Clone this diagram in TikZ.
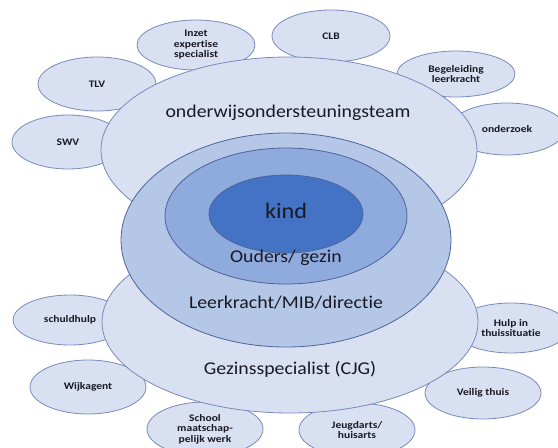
\documentclass[tikz,border=0pt]{standalone}
\usepackage{fontspec}
\setmainfont{Carlito}
\newfontfamily\lblfont[FakeStretch=1.15,Ligatures=NoCommon]{Carlito}
\newfontfamily\bigfont[FakeStretch=1.1,Ligatures=NoCommon]{Carlito}
\usetikzlibrary{shapes.geometric}
\definecolor{lightfill}{RGB}{217,224,241}
\definecolor{lightline}{RGB}{120,138,185}
\definecolor{midfill}{RGB}{180,199,231}
\definecolor{innerfill}{RGB}{143,170,220}
\definecolor{kindfill}{RGB}{68,114,196}
\definecolor{darkline}{RGB}{78,100,155}
\definecolor{txt}{RGB}{25,25,35}
\tikzset{
  sat/.style={ellipse, draw=lightline, fill=lightfill, line width=0.8pt, inner sep=0pt,
    text=txt, font=\lblfont\bfseries\fontsize{10}{10.5}\selectfont, align=center},
  ring/.style={ellipse, inner sep=0pt, line width=0.8pt},
  biglabel/.style={text=txt, font=\bigfont\fontsize{18}{20}\selectfont, inner sep=0pt},
}
\begin{document}
\begin{tikzpicture}[x=1pt,y=-1pt]
\useasboundingbox (0,0) rectangle (558,448);
\clip (0,0) rectangle (558,448);
% satellites
\node[sat, minimum width=118pt, minimum height=54pt] (tlv) at (97,84) {TLV};
\node[sat, minimum width=118pt, minimum height=50pt] (inzet) at (196,45) {Inzet\\expertise\\specialist};
\node[sat, minimum width=118pt, minimum height=52pt] (clb) at (331,36) {CLB};
\node[sat, minimum width=118pt, minimum height=46pt] (begel) at (456,74) {Begeleiding\\leerkracht};
\node[sat, minimum width=116pt, minimum height=52pt] (onderz) at (507,129) {onderzoek};
\node[sat, minimum width=112pt, minimum height=54pt] (swv) at (68,142) {SWV};
\node[sat, minimum width=114pt, minimum height=50pt] (schuld) at (70,320) {schuldhulp};
\node[sat, minimum width=116pt, minimum height=54pt] (wijk) at (88,387) {Wijkagent};
\node[sat, minimum width=116pt, minimum height=54pt] (school) at (205,429) {School\\maatschap-\\pelijk werk};
\node[sat, minimum width=116pt, minimum height=54pt] (jeugd) at (357,430) {Jeugdarts/\\huisarts};
\node[sat, minimum width=116pt, minimum height=52pt] (veilig) at (483,393) {Veilig thuis};
\node[sat, minimum width=116pt, minimum height=50pt] (hulp) at (511,328) {Hulp in\\thuissituatie};
% big ellipses
\node[ring, draw=lightline, fill=lightfill, minimum width=376pt, minimum height=186pt] (upper) at (289,150) {};
\node[ring, draw=lightline, fill=lightfill, minimum width=376pt, minimum height=182pt] (lower) at (290,322) {};
\node[ring, draw=darkline, fill=midfill, minimum width=330pt, minimum height=214pt] (middle) at (286,240) {};
\node[ring, draw=darkline, fill=innerfill, minimum width=242pt, minimum height=136pt] (inner) at (286,216) {};
\node[ring, draw=darkline, fill=kindfill, minimum width=154pt, minimum height=78pt] (kind) at (286,214) {};
% labels
\node[biglabel] (tupper) at (288,113) {onderwijsondersteuningsteam};
\node[biglabel, font=\bigfont\fontsize{22}{24}\selectfont] (tkind) at (286,211) {kind};
\node[biglabel] (tinner) at (286,258) {Ouders/ gezin};
\node[biglabel] (tmiddle) at (286,303) {Leerkracht/MIB/directie};
\node[biglabel] (tlower) at (290,369) {Gezinsspecialist (CJG)};
\end{tikzpicture}
\end{document}
